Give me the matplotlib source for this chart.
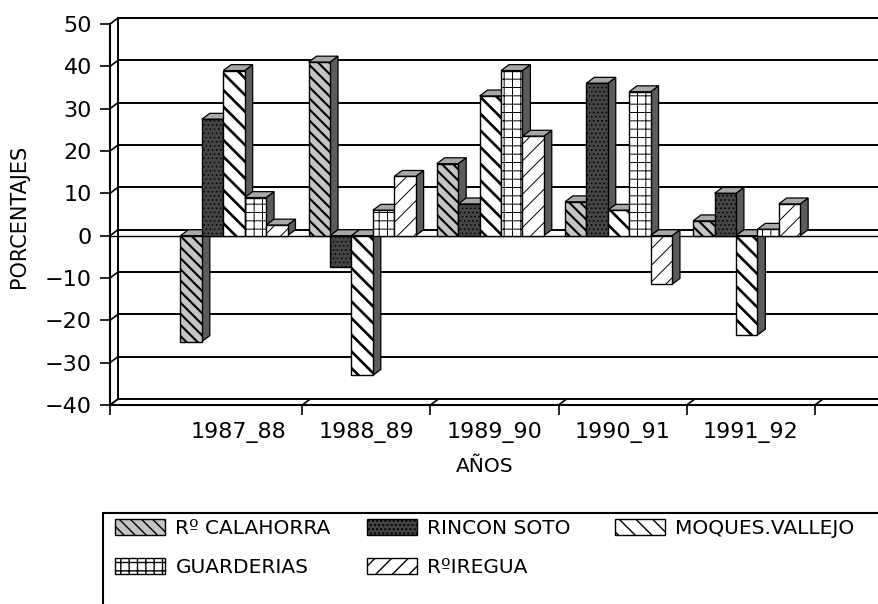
import numpy as np
import matplotlib.pyplot as plt
from matplotlib.patches import Polygon, Patch, Rectangle

plt.rcParams['font.family'] = ['DejaVu Sans']

years = ['1987_88', '1988_89', '1989_90', '1990_91', '1991_92']
names = ['Rº CALAHORRA', 'RINCON SOTO', 'MOQUES.VALLEJO', 'GUARDERIAS', 'RºIREGUA']

# porcentajes
calahorra = [-25, 41, 17, 8, 3.5]
rincon_soto = [27.5, -7.5, 7.5, 36, 10]
moques_vallejo = [39, -33, 33, 6, -23.5]
guarderias = [9, 6, 39, 34, 1.5]
iregua = [2.5, 14, 23.5, -11.5, 7.5]

yticks = list(range(-40, 51, 10))

# estilos de cada serie (relleno, trama, grosor de la trama)
styles = [
    ('#c4c4c4', '\\\\\\', 1.5),
    ('#454545', '....', 0.6),
    ('white', '\\\\', 1.9),
    ('white', '++', 0.7),
    ('white', '//', 0.7),
]

DX = 0.062   # profundidad 3D en x
DY = 1.4     # profundidad 3D en y
W = 0.167    # ancho de barra
OFF = -0.45  # posicion de la primera barra del grupo


def set_hlw(p, lw):
    if hasattr(p, 'set_hatch_linewidth'):
        p.set_hatch_linewidth(lw)


def draw_series(ax, k, values, style):
    fc, hatch, hlw = style
    x = np.arange(len(values)) + OFF + k * W
    z = 3 + k
    for x0, v in zip(x, values):
        side = [(x0 + W, 0), (x0 + W + DX, DY), (x0 + W + DX, v + DY), (x0 + W, v)]
        top_y = max(v, 0)
        top = [(x0, top_y), (x0 + DX, top_y + DY), (x0 + W + DX, top_y + DY), (x0 + W, top_y)]
        ax.add_patch(Polygon(side, closed=True, facecolor='#5c5c5c', edgecolor='k', lw=0.9, zorder=z))
        ax.add_patch(Polygon(top, closed=True, facecolor='#a8a8a8', edgecolor='k', lw=0.9, zorder=z))
    with plt.rc_context({'hatch.linewidth': hlw}):
        bars = ax.bar(x, values, width=W, align='edge', facecolor=fc, edgecolor='k',
                      hatch=hatch, lw=1.0, zorder=z)
    for b in bars:
        set_hlw(b, hlw)


def main():
    fig = plt.figure(figsize=(8.79, 6.04), dpi=100)
    ax = fig.add_axes([110 / 879, 1 - 405 / 604, 1 - 110 / 879, (405 - 24) / 604])
    ax.set_xlim(-1, 5)
    ax.set_ylim(-40, 50)

    # pared del fondo y rejilla
    for v in yticks:
        ax.plot([-1 + DX, 5 + DX], [v + DY, v + DY], color='k', lw=1.4, clip_on=False, zorder=1)
        ax.plot([-1, -1 + DX], [v, v + DY], color='k', lw=1.2, clip_on=False, zorder=1)
    ax.plot([-1 + DX, -1 + DX], [-40 + DY, 50 + DY], color='k', lw=1.4, clip_on=False, zorder=1)
    ax.axhline(0, color='k', lw=1.0, zorder=1.5)

    xt = [-1, 0.5, 1.5, 2.5, 3.5, 4.5]
    for t in xt:
        ax.plot([t, t + DX], [-40, -40 + DY], color='k', lw=1.2, clip_on=False, zorder=1)

    data = [calahorra, rincon_soto, moques_vallejo, guarderias, iregua]
    for k, vals in enumerate(data):
        draw_series(ax, k, vals, styles[k])

    for s in ['top', 'right']:
        ax.spines[s].set_visible(False)
    for s in ['left', 'bottom']:
        ax.spines[s].set_linewidth(1.5)

    ax.set_yticks(yticks)
    ax.set_yticklabels([str(v).replace('-', '\u2212') for v in yticks])
    ax.set_xticks(xt)
    ax.set_xticklabels([''] * len(xt))
    ax.set_xticks(range(len(years)), minor=True)
    ax.set_xticklabels(years, minor=True)
    ax.tick_params(axis='both', which='major', direction='out', length=7, width=1.2, labelsize=16)
    ax.tick_params(axis='y', which='major', pad=6)
    ax.tick_params(axis='x', which='minor', length=0, labelsize=16, pad=12)

    ax.set_xlabel('AÑOS', fontsize=14.5)
    ax.xaxis.set_label_coords((485 - 110) / 769, (405 - 466) / 381)
    ax.xaxis.label.set_va('center')
    ax.set_ylabel('PORCENTAJES', fontsize=15)
    ax.yaxis.set_label_coords((19 - 110) / 769, (405 - 216) / 381)
    ax.yaxis.label.set_va('center')

    # leyenda: una columna cada vez para fijar su posicion
    handles = []
    for fc, hatch, hlw in styles:
        with plt.rc_context({'hatch.linewidth': hlw}):
            h = Patch(facecolor=fc, edgecolor='k', hatch=hatch, lw=1.0)
        set_hlw(h, hlw)
        handles.append(h)

    cols = [[0, 3], [1, 4], [2]]
    col_x = [115, 367, 615]
    for idx, cx in zip(cols, col_x):
        fig.legend([handles[i] for i in idx], [names[i] for i in idx],
                   loc='upper left', bbox_to_anchor=(cx / 879, 1 - 519 / 604),
                   frameon=False, fontsize=14.5, handlelength=2.5, handleheight=0.85,
                   handletextpad=0.5, labelspacing=1.0, borderpad=0, borderaxespad=0)

    fig.add_artist(Rectangle((103 / 879, -0.05), 1.0, (604 - 513) / 604 + 0.05,
                             transform=fig.transFigure, fill=False, lw=1.5,
                             edgecolor='k', clip_on=False))

    fig.savefig('out.png', dpi=100)


if __name__ == "__main__":
    main()
